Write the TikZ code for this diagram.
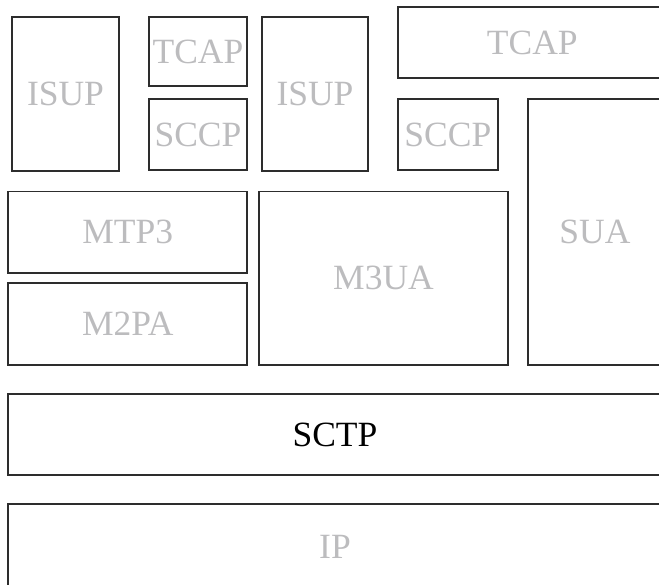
\documentclass[tikz,border=0pt]{standalone}
\usepackage{fontspec}
\setmainfont{Liberation Serif}
\definecolor{lbl}{RGB}{188,188,190}
\definecolor{edge}{RGB}{45,45,45}
\begin{document}
\begin{tikzpicture}[x=1pt,y=-1pt,
  layer/.style={draw=edge, line width=1.8pt, rectangle, inner sep=0pt,
    text=lbl, font=\fontsize{35.5}{40}\selectfont}]
\useasboundingbox (0,0) rectangle (659,584);
\node[layer, minimum width=107.6pt, minimum height=154pt] (isupA) at (65.5,94.3) {ISUP};
\node[layer, minimum width=98.6pt, minimum height=68.7pt] (tcapA) at (198,51.7) {TCAP};
\node[layer, minimum width=98.6pt, minimum height=70.4pt] (sccpA) at (198,134.5) {SCCP};
\node[layer, minimum width=105.4pt, minimum height=154pt] (isupB) at (315,94.3) {ISUP};
\node[layer, minimum width=269.3pt, minimum height=70.4pt] (tcapB) at (532.3,42.5) {TCAP};
\node[layer, minimum width=100.3pt, minimum height=70.4pt] (sccpB) at (447.9,134.5) {SCCP};
\node[layer, minimum width=134pt, minimum height=265.4pt] (sua) at (595,232) {SUA};
\node[layer, minimum width=239pt, minimum height=81.2pt] (mtp) at (127.8,232.1) {MTP3};
\node[layer, minimum width=239pt, minimum height=81.4pt] (mpa) at (127.8,324) {M2PA};
\node[layer, minimum width=248.4pt, minimum height=173.2pt] (mua) at (383.5,278.1) {M3UA};
\node[layer, minimum width=654pt, minimum height=80.7pt, text=black] (sctp) at (335,434.6) {SCTP};
\node[layer, minimum width=654pt, minimum height=86pt] (ip) at (335,547.3) {IP};
\end{tikzpicture}
\end{document}
